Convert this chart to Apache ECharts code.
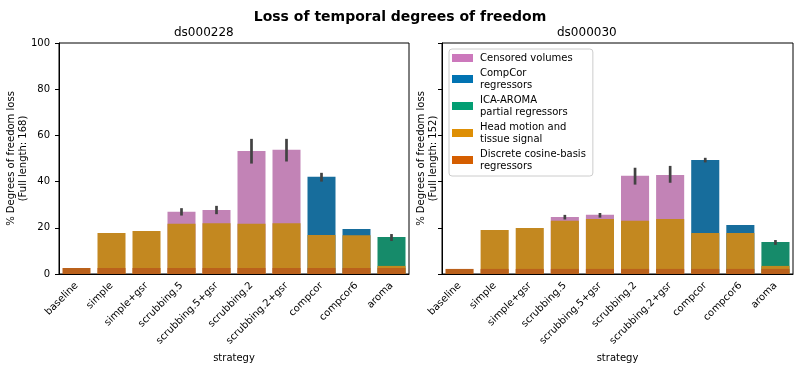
<!DOCTYPE html>
<html><head><meta charset="utf-8">
<script src="https://cdn.jsdelivr.net/npm/echarts@6/dist/echarts.min.js"></script>
<style>html,body{margin:0;padding:0;background:#fff}#c{width:800px;height:368px}</style>
</head><body><div id="c"></div>
<script>
var strategies = ['baseline','simple','simple+gsr','scrubbing.5','scrubbing.5+gsr','scrubbing.2','scrubbing.2+gsr','compcor','compcor6','aroma'];
var yTicks = [0,20,40,60,80,100];

// ds000228 (cumulative bar heights, % loss)
var dct228      = [2.6,2.6,2.6,2.6,2.6,2.6,2.6,2.6,2.6,2.6];
var motion228   = [null,17.8,18.6,21.7,22.0,21.7,22.0,16.9,16.8,3.5];
var compcor228  = [null,null,null,null,null,null,null,42.1,19.5,null];
var aroma228    = [null,null,null,null,null,null,null,null,null,16.0];
var censored228 = [null,null,null,26.9,27.7,53.3,53.8,null,null,null];
var errLow228   = [null,null,null,25.3,25.9,47.8,48.7,40.0,null,14.3];
var errHigh228  = [null,null,null,28.5,29.5,58.5,58.5,43.8,null,17.3];

// ds000030
var dct030      = [2.2,2.2,2.2,2.2,2.2,2.2,2.2,2.2,2.2,2.2];
var motion030   = [null,19.1,19.9,23.0,23.8,23.0,23.8,17.8,17.8,3.5];
var compcor030  = [null,null,null,null,null,null,null,49.4,21.2,null];
var aroma030    = [null,null,null,null,null,null,null,null,null,13.9];
var censored030 = [null,null,null,24.7,25.6,42.5,42.9,null,null,null];
var errLow030   = [null,null,null,23.6,24.4,38.7,39.5,48.3,null,12.6];
var errHigh030  = [null,null,null,25.6,26.4,46.0,46.8,50.3,null,14.7];

var names = ['Censored volumes','CompCor regressors','ICA-AROMA partial regressors','Head motion and tissue signal','Discrete cosine-basis regressors'];
var legendText = {
  'Censored volumes':'Censored volumes',
  'CompCor regressors':'CompCor\nregressors',
  'ICA-AROMA partial regressors':'ICA-AROMA\npartial regressors',
  'Head motion and tissue signal':'Head motion and\ntissue signal',
  'Discrete cosine-basis regressors':'Discrete cosine-basis\nregressors'
};
var fullColors = ['#cc78bc','#0173b2','#029e73','#de8f05','#d55e00'];
var barColors  = ['#c283b6','#176d9c','#168b6a','#c38820','#ba611b'];

var FONT = 'DejaVu Sans';
function xAxis(gi){
  return {type:'category', gridIndex:gi, data:strategies,
    axisLine:{lineStyle:{color:'#000',width:1}},
    axisTick:{alignWithLabel:true,length:4,lineStyle:{color:'#000'}},
    axisLabel:{rotate:45,fontSize:10,fontFamily:FONT,color:'#000',margin:10,interval:0},
    name:'strategy', nameLocation:'middle', nameGap:79, nameMoveOverlap:false,
    nameTextStyle:{fontSize:10,fontFamily:FONT,color:'#000'}};
}
function yAxis(gi, label, showLabels, gap){
  return {type:'value', gridIndex:gi, min:0, max:100, interval:20,
    axisLine:{show:true,lineStyle:{color:'#000',width:1}},
    axisTick:{show:true,length:4,lineStyle:{color:'#000'}},
    axisLabel:{show:showLabels,fontSize:10,fontFamily:FONT,color:'#000',margin:9},
    splitLine:{show:false},
    name:label, nameLocation:'middle', nameRotate:90, nameGap:gap, nameMoveOverlap:false,
    nameTextStyle:{fontSize:10,fontFamily:FONT,color:'#000',lineHeight:12}};
}
var series = [];
function addBars(gi, arrs){
  arrs.forEach(function(a, i){
    series.push({type:'bar', name:names[i], xAxisIndex:gi, yAxisIndex:gi, data:a,
      barWidth:'80%', barGap:'-100%', itemStyle:{color:barColors[i]}, emphasis:{disabled:true}, animation:false});
  });
}
function addErr(gi, lo, hi){
  var d = [];
  for (var i=0;i<strategies.length;i++){ if (lo[i]!=null) d.push([i, lo[i], hi[i]]); }
  series.push({type:'custom', xAxisIndex:gi, yAxisIndex:gi, data:d, z:10, animation:false,
    renderItem:function(params, api){
      var p1 = api.coord([api.value(0), api.value(1)]);
      var p2 = api.coord([api.value(0), api.value(2)]);
      return {type:'line', shape:{x1:p1[0],y1:p1[1],x2:p2[0],y2:p2[1]},
        style:{stroke:'#424242', lineWidth:2.7}};
    }});
}
addBars(0, [censored228, compcor228, aroma228, motion228, dct228]);
addBars(1, [censored030, compcor030, aroma030, motion030, dct030]);
addErr(0, errLow228, errHigh228);
addErr(1, errLow030, errHigh030);

var option = {
  animation:false,
  title:{text:'Loss of temporal degrees of freedom', left:'center', top:5,
    textStyle:{fontSize:14,fontWeight:'bold',fontFamily:FONT,color:'#000'}},
  grid:[
    {left:59, right:391, top:43, bottom:94, show:true, borderColor:'#000', borderWidth:1},
    {left:442, right:7, top:43, bottom:94, show:true, borderColor:'#000', borderWidth:1}
  ],
  xAxis:[xAxis(0), xAxis(1)],
  yAxis:[yAxis(0,'% Degrees of freedom loss\n(Full length: 168)',true,30),
         yAxis(1,'% Degrees of freedom loss\n(Full length: 152)',false,3)],
  legend:{left:449, top:49, orient:'vertical', padding:[3,7,4,3], itemGap:3,
    itemWidth:21, itemHeight:8, icon:'rect',
    borderColor:'#cccccc', borderWidth:1, borderRadius:3, backgroundColor:'rgba(255,255,255,0.8)',
    textStyle:{fontSize:10,fontFamily:FONT,color:'#000',lineHeight:12,padding:[0,0,0,2]},
    formatter:function(n){return legendText[n];},
    selectedMode:false,
    data:names.map(function(n,i){return {name:n, itemStyle:{color:fullColors[i]}};})},
  graphic:[
    {type:'text', left:234-60, top:27, style:{text:'ds000228', width:120, align:'center', fontSize:12, fontFamily:FONT, fill:'#000'}},
    {type:'text', left:617-60, top:27, style:{text:'ds000030', width:120, align:'center', fontSize:12, fontFamily:FONT, fill:'#000'}}
  ],
  series:series
};
var chart = echarts.init(document.getElementById('c'), null, {renderer:'canvas'});
chart.setOption(option);
</script></body></html>
